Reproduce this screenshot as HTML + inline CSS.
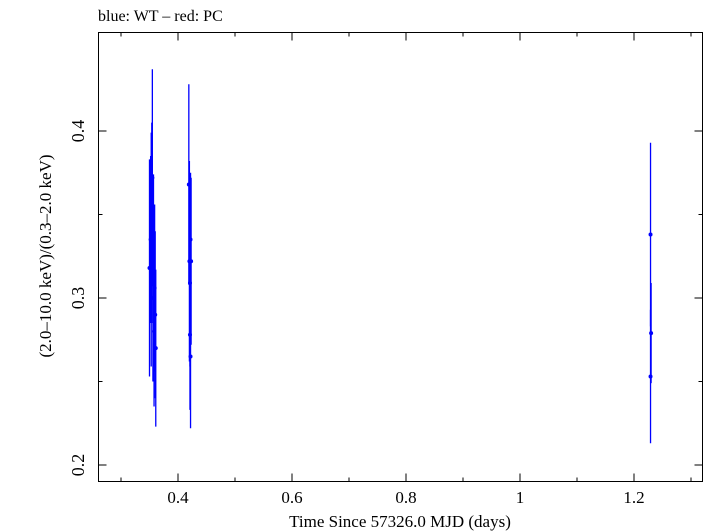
<!DOCTYPE html>
<html><head><meta charset="utf-8"><style>
body{margin:0;background:#fff;}
svg{display:block;font-family:"Liberation Serif",serif;}
</style></head><body>
<svg id="chart" width="705" height="532">
<text x="98" y="21" font-size="16">blue: WT – red: PC</text>
<rect x="98.5" y="32.5" width="604" height="449" fill="none" stroke="#000"/>
<g id="ticks"></g>
<g id="marks"></g>
<text x="400" y="527" font-size="17" text-anchor="middle">Time Since 57326.0 MJD (days)</text>
<text transform="translate(51,256) rotate(-90)" font-size="17" text-anchor="middle">(2.0–10.0 keV)/(0.3–2.0 keV)</text>
</svg>
<script>
const times = [0.350,0.352,0.353,0.354,0.355,0.356,0.357,0.358,0.359,0.360,0.361, 0.419,0.420,0.421,0.421,0.422,0.422,0.423, 1.229,1.230,1.229];
const ratios = [0.318,0.335,0.329,0.345,0.372,0.300,0.314,0.280,0.306,0.290,0.270, 0.368,0.322,0.309,0.278,0.265,0.335,0.322, 0.338,0.279,0.253];
const errors = [0.065,0.050,0.070,0.060,0.065,0.050,0.060,0.045,0.050,0.050,0.047, 0.060,0.060,0.050,0.045,0.043,0.040,0.050, 0.055,0.030,0.040];
const xTicks = [0.4,0.6,0.8,1.0,1.2];
const xTickLabels = ["0.4","0.6","0.8","1","1.2"];
const xMinor = [0.3,0.5,0.7,0.9,1.1,1.3];
const yTicks = [0.2,0.3,0.4];
const yTickLabels = ["0.2","0.3","0.4"];
const yMinor = [0.25,0.35];

const X0=98.5,X1=702.5,Y0=32.5,Y1=481.5;
function xs(t){return 178+(t-0.4)*570;}
function ys(v){return 298-(v-0.3)*1670;}
const NS="http://www.w3.org/2000/svg";
const tg=document.getElementById('ticks'), mg=document.getElementById('marks');
function mk(tag,at,parent){const e=document.createElementNS(NS,tag);for(const k in at)e.setAttribute(k,at[k]);parent.appendChild(e);return e;}
xTicks.forEach((t,i)=>{
  const x=xs(t);
  const a=mk('line',{x1:x,x2:x,y1:Y1,y2:Y1-8,stroke:'#000'},tg);
  
  
  const b=mk('line',{x1:x,x2:x,y1:Y0,y2:Y0+8,stroke:'#000'},tg);
  
  
  const l=mk('text',{x:x,y:503,'font-size':17,'text-anchor':'middle'},tg);
  l.textContent=xTickLabels[i];
  
  
});
xMinor.forEach(t=>{
  const x=xs(t); if(x<X0||x>X1) return;
  const a=mk('line',{x1:x,x2:x,y1:Y1,y2:Y1-4,stroke:'#000'},tg);
  
  
  const b=mk('line',{x1:x,x2:x,y1:Y0,y2:Y0+4,stroke:'#000'},tg);
  
  
});
yTicks.forEach((v,i)=>{
  const y=ys(v);
  const a=mk('line',{x1:X0,x2:X0+8,y1:y,y2:y,stroke:'#000'},tg);
  
  
  const b=mk('line',{x1:X1,x2:X1-8,y1:y,y2:y,stroke:'#000'},tg);
  
  
  const l=mk('text',{transform:`translate(84,${y}) rotate(-90)`,'font-size':18,'text-anchor':'middle'},tg);
  l.textContent=yTickLabels[i];
  
  
});
yMinor.forEach(v=>{
  const y=ys(v);
  const a=mk('line',{x1:X0,x2:X0+4,y1:y,y2:y,stroke:'#000'},tg);
  
  
  const b=mk('line',{x1:X1,x2:X1-4,y1:y,y2:y,stroke:'#000'},tg);
  
  
});
times.forEach((t,i)=>{
  const x=xs(t);
  const e=mk('line',{x1:x,x2:x,y1:ys(ratios[i]+errors[i]),y2:ys(ratios[i]-errors[i]),stroke:'#0000ff','stroke-width':1.3},mg);
  
  
  const c=mk('circle',{cx:x,cy:ys(ratios[i]),r:2,fill:'#0000ff'},mg);
  
  
});
</script>
</body></html>
